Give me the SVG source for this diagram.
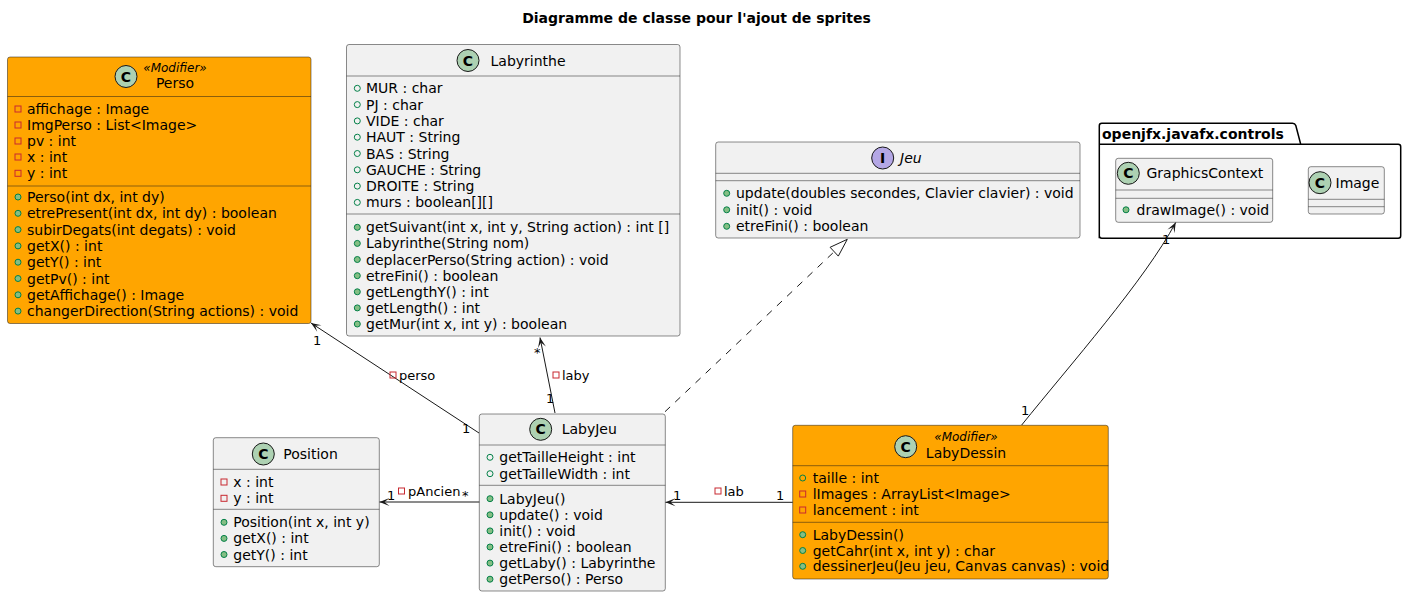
<svg xmlns="http://www.w3.org/2000/svg" width="1406" height="597" viewBox="0 0 1406 597">
<style>
.box{fill:#F1F1F1;stroke:#181818;stroke-width:0.5}
.mod{fill:#FFA500;stroke:#181818;stroke-width:0.5}
.sep{stroke:#181818;stroke-width:0.5}
text{font-family:"DejaVu Sans","Liberation Sans",sans-serif;fill:#000000}
.t{font-size:14px}
.st{font-size:12px;font-style:italic}
.it{font-size:14px;font-style:italic}
.ttl{font-size:14px;font-weight:bold}
.lbl{font-size:13px}
.ci{fill:#ADD1B2;stroke:#181818;stroke-width:1}
.ii{fill:#B4A7E5;stroke:#181818;stroke-width:1}
.cl{font-size:14px;font-weight:bold;text-anchor:middle}
.pr{fill:none;stroke:#C82930;stroke-width:1}
.pf{fill:none;stroke:#038048;stroke-width:1}
.pm{fill:#84BE84;stroke:#038048;stroke-width:1}
.edge{fill:none;stroke:#181818;stroke-width:1}
</style>
<defs>
<marker id="arr" markerUnits="userSpaceOnUse" viewBox="-11 -6 12 12" refX="0" refY="0" markerWidth="12" markerHeight="12" orient="auto">
<path d="M0,0 L-10,-4 L-5,0 L-10,4 Z" fill="#181818"/>
</marker>
</defs>
<rect width="1406" height="597" fill="#FFFFFF"/>
<text class="ttl" x="696.5" y="23" text-anchor="middle">Diagramme de classe pour l'ajout de sprites</text>

<g id="Perso">
<rect class="mod" x="7.5" y="57" width="303.5" height="266.5" rx="2.5"/>
<circle class="ci" cx="126" cy="76.5" r="11"/>
<text class="cl" x="126" y="81.5">C</text>
<text class="st" x="175" y="72" text-anchor="middle">«Modifier»</text>
<text class="t" x="175" y="88" text-anchor="middle">Perso</text>
<line class="sep" x1="7.5" y1="96.5" x2="311" y2="96.5"/>
<rect class="pr" x="15" y="106" width="6" height="6"/><text class="t" x="27" y="114">affichage : Image</text>
<rect class="pr" x="15" y="122" width="6" height="6"/><text class="t" x="27" y="130">ImgPerso : List&lt;Image&gt;</text>
<rect class="pr" x="15" y="138" width="6" height="6"/><text class="t" x="27" y="146">pv : int</text>
<rect class="pr" x="15" y="154" width="6" height="6"/><text class="t" x="27" y="162">x : int</text>
<rect class="pr" x="15" y="170.3" width="6" height="6"/><text class="t" x="27" y="178.3">y : int</text>
<line class="sep" x1="7.5" y1="186" x2="311" y2="186"/>
<circle class="pm" cx="18" cy="197" r="3"/><text class="t" x="27" y="202">Perso(int dx, int dy)</text>
<circle class="pm" cx="18" cy="213.3" r="3"/><text class="t" x="27" y="218.3">etrePresent(int dx, int dy) : boolean</text>
<circle class="pm" cx="18" cy="229.6" r="3"/><text class="t" x="27" y="234.6">subirDegats(int degats) : void</text>
<circle class="pm" cx="18" cy="245.9" r="3"/><text class="t" x="27" y="250.9">getX() : int</text>
<circle class="pm" cx="18" cy="262.2" r="3"/><text class="t" x="27" y="267.2">getY() : int</text>
<circle class="pm" cx="18" cy="278.5" r="3"/><text class="t" x="27" y="283.5">getPv() : int</text>
<circle class="pm" cx="18" cy="294.8" r="3"/><text class="t" x="27" y="299.8">getAffichage() : Image</text>
<circle class="pm" cx="18" cy="311.1" r="3"/><text class="t" x="27" y="316.1">changerDirection(String actions) : void</text>
</g>

<g id="Labyrinthe">
<rect class="box" x="346.5" y="44.5" width="333.5" height="291.5" rx="2.5"/>
<circle class="ci" cx="468" cy="60.5" r="11"/>
<text class="cl" x="468" y="65.5">C</text>
<text class="t" x="490.5" y="65.5">Labyrinthe</text>
<line class="sep" x1="346.5" y1="76" x2="680" y2="76"/>
<circle class="pf" cx="357.3" cy="88.3" r="3"/><text class="t" x="366" y="93.3">MUR : char</text>
<circle class="pf" cx="357.3" cy="104.6" r="3"/><text class="t" x="366" y="109.6">PJ : char</text>
<circle class="pf" cx="357.3" cy="120.9" r="3"/><text class="t" x="366" y="125.9">VIDE : char</text>
<circle class="pf" cx="357.3" cy="137.2" r="3"/><text class="t" x="366" y="142.2">HAUT : String</text>
<circle class="pf" cx="357.3" cy="153.5" r="3"/><text class="t" x="366" y="158.5">BAS : String</text>
<circle class="pf" cx="357.3" cy="169.8" r="3"/><text class="t" x="366" y="174.8">GAUCHE : String</text>
<circle class="pf" cx="357.3" cy="186.1" r="3"/><text class="t" x="366" y="191.1">DROITE : String</text>
<circle class="pf" cx="357.3" cy="202.4" r="3"/><text class="t" x="366" y="207.4">murs : boolean[][]</text>
<line class="sep" x1="346.5" y1="214" x2="680" y2="214"/>
<circle class="pm" cx="357.3" cy="227.3" r="3"/><text class="t" x="366" y="232.3">getSuivant(int x, int y, String action) : int []</text>
<circle class="pm" cx="357.3" cy="243.4" r="3"/><text class="t" x="366" y="248.4">Labyrinthe(String nom)</text>
<circle class="pm" cx="357.3" cy="259.5" r="3"/><text class="t" x="366" y="264.5">deplacerPerso(String action) : void</text>
<circle class="pm" cx="357.3" cy="275.7" r="3"/><text class="t" x="366" y="280.7">etreFini() : boolean</text>
<circle class="pm" cx="357.3" cy="291.8" r="3"/><text class="t" x="366" y="296.8">getLengthY() : int</text>
<circle class="pm" cx="357.3" cy="307.9" r="3"/><text class="t" x="366" y="312.9">getLength() : int</text>
<circle class="pm" cx="357.3" cy="324" r="3"/><text class="t" x="366" y="329">getMur(int x, int y) : boolean</text>
</g>

<g id="Jeu">
<rect class="box" x="715.7" y="142" width="364.3" height="96" rx="2.5"/>
<circle class="ii" cx="882.7" cy="158" r="11"/>
<text class="cl" x="882.7" y="163">I</text>
<text class="it" x="900" y="163">Jeu</text>
<line class="sep" x1="715.7" y1="173.3" x2="1080" y2="173.3"/>
<line class="sep" x1="715.7" y1="180.7" x2="1080" y2="180.7"/>
<circle class="pm" cx="726.7" cy="193.3" r="3"/><text class="t" x="736" y="198.3">update(doubles secondes, Clavier clavier) : void</text>
<circle class="pm" cx="726.7" cy="209.8" r="3"/><text class="t" x="736" y="214.8">init() : void</text>
<circle class="pm" cx="726.7" cy="226.3" r="3"/><text class="t" x="736" y="231.3">etreFini() : boolean</text>
</g>

<g id="openjfx.javafx.controls">
<path d="M1099.3,238.3 L1099.3,125.8 Q1099.3,123.3 1101.8,123.3 L1292.5,123.3 Q1295,123.3 1295.8,125.5 L1300.7,144.3 L1398.2,144.3 Q1400.7,144.3 1400.7,146.8 L1400.7,235.8 Q1400.7,238.3 1398.2,238.3 L1101.8,238.3 Q1099.3,238.3 1099.3,235.8 Z" fill="#FFFFFF" stroke="#000000" stroke-width="1.5"/>
<line x1="1099.3" y1="144.3" x2="1300.7" y2="144.3" stroke="#000000" stroke-width="1.5"/>
<text class="ttl" x="1102" y="138.5">openjfx.javafx.controls</text>
</g>

<g id="GraphicsContext">
<rect class="box" x="1115.7" y="158.3" width="157" height="64" rx="2.5"/>
<circle class="ci" cx="1128.3" cy="173.3" r="11"/>
<text class="cl" x="1128.3" y="178.3">C</text>
<text class="t" x="1146.5" y="178.3">GraphicsContext</text>
<line class="sep" x1="1115.7" y1="190" x2="1272.7" y2="190"/>
<line class="sep" x1="1115.7" y1="198.3" x2="1272.7" y2="198.3"/>
<circle class="pm" cx="1126" cy="209.8" r="3"/><text class="t" x="1136.5" y="214.8">drawImage() : void</text>
</g>

<g id="Image">
<rect class="box" x="1308.3" y="166.7" width="76" height="47.3" rx="2.5"/>
<circle class="ci" cx="1320" cy="182.7" r="11"/>
<text class="cl" x="1320" y="187.7">C</text>
<text class="t" x="1335.5" y="187.7">Image</text>
<line class="sep" x1="1308.3" y1="199.3" x2="1384.3" y2="199.3"/>
<line class="sep" x1="1308.3" y1="206.7" x2="1384.3" y2="206.7"/>
</g>

<g id="Position">
<rect class="box" x="213.3" y="437.7" width="166" height="129" rx="2.5"/>
<circle class="ci" cx="263.3" cy="454" r="11"/>
<text class="cl" x="263.3" y="459">C</text>
<text class="t" x="283.3" y="459">Position</text>
<line class="sep" x1="213.3" y1="469.3" x2="379.3" y2="469.3"/>
<rect class="pr" x="221" y="479" width="6" height="6"/><text class="t" x="233.3" y="487">x : int</text>
<rect class="pr" x="221" y="495.3" width="6" height="6"/><text class="t" x="233.3" y="503.3">y : int</text>
<line class="sep" x1="213.3" y1="509.3" x2="379.3" y2="509.3"/>
<circle class="pm" cx="224" cy="522.3" r="3"/><text class="t" x="233.3" y="527.3">Position(int x, int y)</text>
<circle class="pm" cx="224" cy="538.4" r="3"/><text class="t" x="233.3" y="543.4">getX() : int</text>
<circle class="pm" cx="224" cy="554.5" r="3"/><text class="t" x="233.3" y="559.5">getY() : int</text>
</g>

<g id="LabyJeu">
<rect class="box" x="479.3" y="414" width="186" height="177" rx="2.5"/>
<circle class="ci" cx="540.7" cy="429.3" r="11"/>
<text class="cl" x="540.7" y="434.3">C</text>
<text class="t" x="561.7" y="434.3">LabyJeu</text>
<line class="sep" x1="479.3" y1="445" x2="665.3" y2="445"/>
<circle class="pf" cx="490" cy="457.3" r="3"/><text class="t" x="499.3" y="462.3">getTailleHeight : int</text>
<circle class="pf" cx="490" cy="473.7" r="3"/><text class="t" x="499.3" y="478.7">getTailleWidth : int</text>
<line class="sep" x1="479.3" y1="485.3" x2="665.3" y2="485.3"/>
<circle class="pm" cx="490" cy="498.7" r="3"/><text class="t" x="499.3" y="503.7">LabyJeu()</text>
<circle class="pm" cx="490" cy="514.8" r="3"/><text class="t" x="499.3" y="519.8">update() : void</text>
<circle class="pm" cx="490" cy="530.9" r="3"/><text class="t" x="499.3" y="535.9">init() : void</text>
<circle class="pm" cx="490" cy="547" r="3"/><text class="t" x="499.3" y="552">etreFini() : boolean</text>
<circle class="pm" cx="490" cy="563.1" r="3"/><text class="t" x="499.3" y="568.1">getLaby() : Labyrinthe</text>
<circle class="pm" cx="490" cy="579.2" r="3"/><text class="t" x="499.3" y="584.2">getPerso() : Perso</text>
</g>

<g id="LabyDessin">
<rect class="mod" x="792.7" y="425.3" width="315.6" height="153.7" rx="2.5"/>
<circle class="ci" cx="905.7" cy="446.7" r="11"/>
<text class="cl" x="905.7" y="451.7">C</text>
<text class="st" x="966" y="440.5" text-anchor="middle">«Modifier»</text>
<text class="t" x="966" y="457.5" text-anchor="middle">LabyDessin</text>
<line class="sep" x1="792.7" y1="465.7" x2="1108.3" y2="465.7"/>
<circle class="pf" cx="802.7" cy="478" r="3"/><text class="t" x="812.7" y="483">taille : int</text>
<rect class="pr" x="799.7" y="491" width="6" height="6"/><text class="t" x="812.7" y="499">lImages : ArrayList&lt;Image&gt;</text>
<rect class="pr" x="799.7" y="507" width="6" height="6"/><text class="t" x="812.7" y="515">lancement : int</text>
<line class="sep" x1="792.7" y1="522.3" x2="1108.3" y2="522.3"/>
<circle class="pm" cx="802.7" cy="534.7" r="3"/><text class="t" x="812.7" y="539.7">LabyDessin()</text>
<circle class="pm" cx="802.7" cy="550.5" r="3"/><text class="t" x="812.7" y="555.5">getCahr(int x, int y) : char</text>
<circle class="pm" cx="802.7" cy="566.3" r="3"/><text class="t" x="812.7" y="571.3">dessinerJeu(Jeu jeu, Canvas canvas) : void</text>
</g>

<g id="connectors">
<path class="edge" d="M479,433 L311,323" marker-end="url(#arr)"/>
<text class="lbl" x="313" y="345">1</text>
<text class="lbl" x="462" y="433">1</text>
<rect class="pr" x="390" y="372" width="6" height="6"/>
<text class="lbl" x="399" y="380">perso</text>

<path class="edge" d="M555,413 L540,337.5" marker-end="url(#arr)"/>
<text class="lbl" x="534" y="357">*</text>
<text class="lbl" x="546" y="403">1</text>
<rect class="pr" x="553" y="372" width="6" height="6"/>
<text class="lbl" x="562" y="380">laby</text>

<path class="edge" d="M665,411.7 L834.2,251.7" stroke-dasharray="7,7"/>
<polygon points="847.3,239.3 830.1,247.3 838.3,256.1" fill="#FFFFFF" stroke="#181818" stroke-width="1"/>

<path class="edge" d="M1021.7,425 C1070,365 1145,280 1175.7,222.5" marker-end="url(#arr)"/>
<text class="lbl" x="1021" y="415">1</text>
<text class="lbl" x="1162" y="244">1</text>

<path class="edge" d="M792.7,502.3 L665.5,502.3" marker-end="url(#arr)"/>
<text class="lbl" x="673" y="500">1</text>
<text class="lbl" x="776" y="500">1</text>
<rect class="pr" x="715" y="488" width="6" height="6"/>
<text class="lbl" x="724" y="496">lab</text>

<path class="edge" d="M479.3,502 L379.5,502" marker-end="url(#arr)"/>
<text class="lbl" x="387" y="500">1</text>
<text class="lbl" x="462" y="500">*</text>
<rect class="pr" x="398.5" y="488" width="6" height="6"/>
<text class="lbl" x="408" y="496">pAncien</text>
</g>
</svg>
